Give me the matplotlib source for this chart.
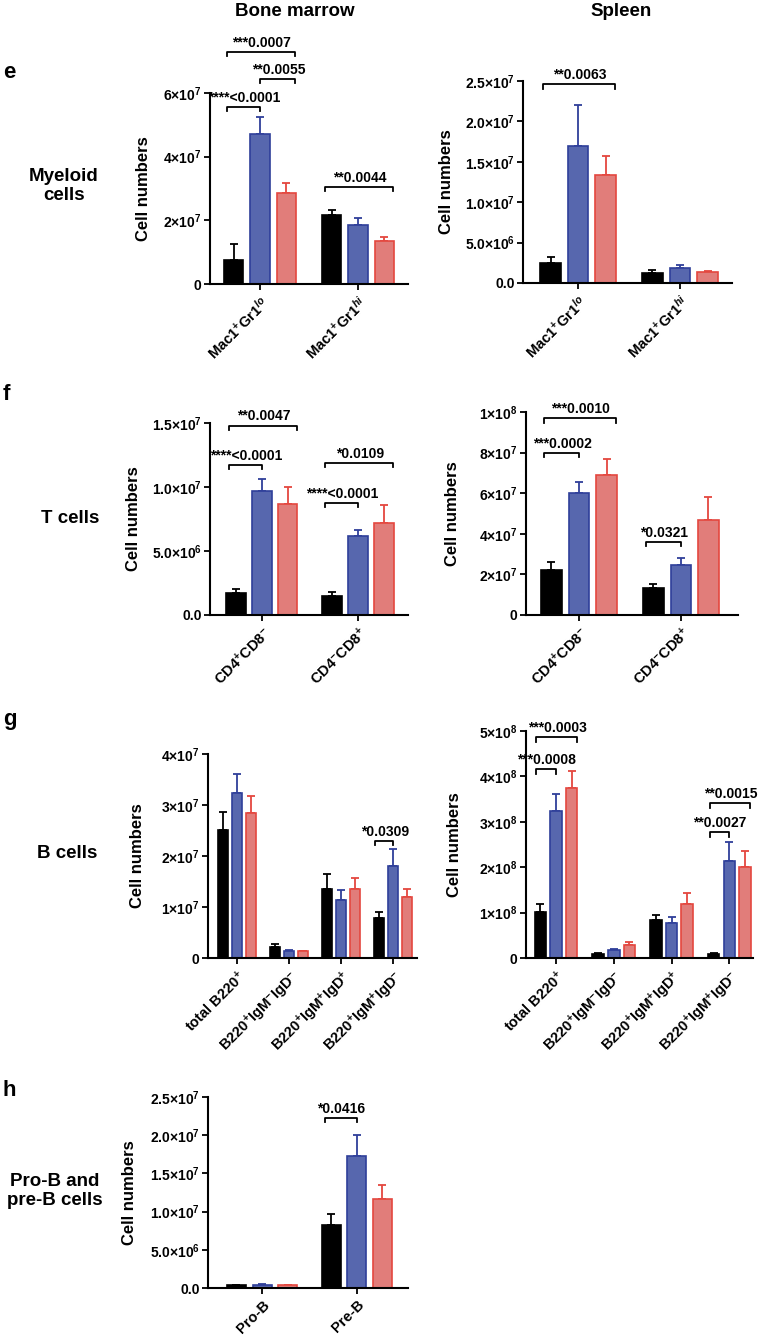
import numpy as np
import matplotlib.pyplot as plt

plt.rcParams['font.family'] = ['Liberation Sans', 'DejaVu Sans']
plt.rcParams['font.weight'] = 'bold'
plt.rcParams['mathtext.fontset'] = 'custom'
plt.rcParams['mathtext.rm'] = 'Liberation Sans:bold'
plt.rcParams['mathtext.bf'] = 'Liberation Sans:bold'
plt.rcParams['mathtext.it'] = 'Liberation Sans:italic:bold'
plt.rcParams['mathtext.default'] = 'rm'

face_colors = ['#000000', '#5767ae', '#e17d7a']
edge_colors = ['#000000', '#2f3f9a', '#e4473f']

# e - myeloid cells
e_cats = [r'Mac1$^{+}$Gr1$^{\mathit{lo}}$', r'Mac1$^{+}$Gr1$^{\mathit{hi}}$']
e_bm_black = [0.75e7, 2.17e7]
e_bm_blue = [4.72e7, 1.86e7]
e_bm_red = [2.86e7, 1.35e7]
e_bm_black_err = [0.51e7, 0.17e7]
e_bm_blue_err = [0.53e7, 0.22e7]
e_bm_red_err = [0.32e7, 0.13e7]
e_bm_yticks = [0, 2e7, 4e7, 6e7]
e_bm_yticklabels = ['0', '2×10$^{7}$', '4×10$^{7}$', '6×10$^{7}$']
e_bm_brackets = [(0, 0, 2, 7.3e7, '***0.0007'), (0, 1, 2, 6.45e7, '**0.0055'),
                 (0, 0, 1, 5.57e7, '****<0.0001'), (1, 0, 2, 3.05e7, '**0.0044')]

e_sp_black = [0.25e7, 0.124e7]
e_sp_blue = [1.70e7, 0.186e7]
e_sp_red = [1.34e7, 0.14e7]
e_sp_black_err = [0.07e7, 0.036e7]
e_sp_blue_err = [0.50e7, 0.034e7]
e_sp_red_err = [0.23e7, 0.01e7]
e_sp_yticks = [0, 0.5e7, 1.0e7, 1.5e7, 2.0e7, 2.5e7]
e_sp_yticklabels = ['0.0', '5.0×10$^{6}$', '1.0×10$^{7}$', '1.5×10$^{7}$', '2.0×10$^{7}$', '2.5×10$^{7}$']
e_sp_brackets = [(0, 0, 2, 2.46e7, '**0.0063')]

# f - T cells
f_cats = [r'CD4$^{+}$CD8$^{-}$', r'CD4$^{-}$CD8$^{+}$']
f_bm_black = [1.72e6, 1.5e6]
f_bm_blue = [9.7e6, 6.17e6]
f_bm_red = [8.67e6, 7.2e6]
f_bm_black_err = [0.3e6, 0.3e6]
f_bm_blue_err = [0.9e6, 0.5e6]
f_bm_red_err = [1.35e6, 1.4e6]
f_bm_yticks = [0, 5e6, 1.0e7, 1.5e7]
f_bm_yticklabels = ['0.0', '5.0×10$^{6}$', '1.0×10$^{7}$', '1.5×10$^{7}$']
f_bm_brackets = [(0, 0, 2, 14.8e6, '**0.0047'), (0, 0, 1, 11.7e6, '****<0.0001'),
                 (1, 0, 2, 11.9e6, '*0.0109'), (1, 0, 1, 8.75e6, '****<0.0001')]

f_sp_black = [22e6, 13.3e6]
f_sp_blue = [60e6, 24.6e6]
f_sp_red = [69e6, 46.8e6]
f_sp_black_err = [4e6, 2e6]
f_sp_blue_err = [5.5e6, 3.4e6]
f_sp_red_err = [8e6, 11.2e6]
f_sp_yticks = [0, 2e7, 4e7, 6e7, 8e7, 1e8]
f_sp_yticklabels = ['0', '2×10$^{7}$', '4×10$^{7}$', '6×10$^{7}$', '8×10$^{7}$', '1×10$^{8}$']
f_sp_brackets = [(0, 0, 2, 97e6, '***0.0010'), (0, 0, 1, 80e6, '***0.0002'),
                 (1, 0, 1, 36e6, '*0.0321')]

# g - B cells
g_cats = [r'total B220$^{+}$', r'B220$^{+}$IgM$^{-}$IgD$^{-}$',
          r'B220$^{+}$IgM$^{+}$IgD$^{+}$', r'B220$^{+}$IgM$^{+}$IgD$^{-}$']
g_bm_black = [25.1e6, 2.1e6, 13.5e6, 7.8e6]
g_bm_blue = [32.3e6, 1.3e6, 11.4e6, 18.0e6]
g_bm_red = [28.4e6, 1.3e6, 13.5e6, 12.0e6]
g_bm_black_err = [3.5e6, 0.6e6, 2.9e6, 1.2e6]
g_bm_blue_err = [3.7e6, 0.2e6, 1.9e6, 3.4e6]
g_bm_red_err = [3.3e6, 0.1e6, 2.2e6, 1.5e6]
g_bm_yticks = [0, 1e7, 2e7, 3e7, 4e7]
g_bm_yticklabels = ['0', '1×10$^{7}$', '2×10$^{7}$', '3×10$^{7}$', '4×10$^{7}$']
g_bm_brackets = [(3, 0, 1, 23e6, '*0.0309')]

g_sp_black = [1.02e8, 0.09e8, 0.84e8, 0.09e8]
g_sp_blue = [3.24e8, 0.18e8, 0.77e8, 2.14e8]
g_sp_red = [3.74e8, 0.28e8, 1.19e8, 2.0e8]
g_sp_black_err = [0.17e8, 0.01e8, 0.11e8, 0.01e8]
g_sp_blue_err = [0.37e8, 0.02e8, 0.13e8, 0.41e8]
g_sp_red_err = [0.38e8, 0.07e8, 0.24e8, 0.35e8]
g_sp_yticks = [0, 1e8, 2e8, 3e8, 4e8, 5e8]
g_sp_yticklabels = ['0', '1×10$^{8}$', '2×10$^{8}$', '3×10$^{8}$', '4×10$^{8}$', '5×10$^{8}$']
g_sp_brackets = [(0, 0, 2, 4.87e8, '***0.0003'), (0, 0, 1, 4.16e8, '***0.0008'),
                 (3, 0, 2, 3.41e8, '**0.0015'), (3, 0, 1, 2.78e8, '**0.0027')]

# h - pro-B and pre-B cells
h_cats = ['Pro-B', 'Pre-B']
h_bm_black = [0.35e6, 8.2e6]
h_bm_blue = [0.45e6, 17.3e6]
h_bm_red = [0.4e6, 11.6e6]
h_bm_black_err = [0.05e6, 1.5e6]
h_bm_blue_err = [0.05e6, 2.7e6]
h_bm_red_err = [0.05e6, 1.9e6]
h_bm_yticks = [0, 0.5e7, 1.0e7, 1.5e7, 2.0e7, 2.5e7]
h_bm_yticklabels = ['0.0', '5.0×10$^{6}$', '1.0×10$^{7}$', '1.5×10$^{7}$', '2.0×10$^{7}$', '2.5×10$^{7}$']
h_bm_brackets = [(1, 0, 1, 22.3e6, '*0.0416')]

W, H = 759, 1344
bar_w = 0.2
step = 0.27


def px_box(x0, x1, y0, y1):
    # pixel box (top-left origin) -> figure fraction rect
    return [x0 / W, 1 - y1 / H, (x1 - x0) / W, (y1 - y0) / H]


def draw_panel(ax, cats, means, errs, yticks, yticklabels, brackets, xlim, label_x):
    n = len(cats)
    x = np.arange(n)
    for k in range(3):
        pos = x + (k - 1) * step
        ax.bar(pos, means[k], bar_w, color=face_colors[k], edgecolor=edge_colors[k],
               linewidth=1.2, zorder=2)
        ax.errorbar(pos, means[k], yerr=[np.zeros(n), errs[k]], fmt='none',
                    ecolor=edge_colors[k], elinewidth=1.3, capsize=3, capthick=1.3, zorder=1)
    ymax = yticks[-1]
    ax.set_ylim(0, ymax)
    ax.set_xlim(*xlim)
    ax.set_yticks(yticks)
    ax.set_yticklabels(yticklabels)
    ax.set_xticks(x)
    ax.set_xticklabels(cats, rotation=45, ha='right', rotation_mode='anchor', fontsize=10.5)
    for s in ['top', 'right']:
        ax.spines[s].set_visible(False)
    for s in ['left', 'bottom']:
        ax.spines[s].set_linewidth(1.5)
    ax.tick_params(axis='y', length=4, width=1.3, labelsize=10, pad=2)
    ax.tick_params(axis='x', length=4, width=1.3, pad=3)
    ax.set_ylabel('Cell numbers', fontsize=12, fontweight='bold')
    ax.yaxis.set_label_coords(label_x, 0.5)

    # significance brackets
    end_off = [-0.35 * bar_w, 0.0, 0.45 * bar_w]
    d = 0.022 * ymax
    for g, i, j, y, txt in brackets:
        x1 = g + (i - 1) * step + end_off[i]
        x2 = g + (j - 1) * step + end_off[j]
        ax.plot([x1, x1, x2, x2], [y - d, y, y, y - d], color='black', lw=1.3,
                clip_on=False, zorder=3)
        ax.annotate(txt, xy=((x1 + x2) / 2, y), xytext=(0.5, 1.5), textcoords='offset points',
                    ha='center', va='bottom', fontsize=10, fontweight='bold',
                    annotation_clip=False)


fig = plt.figure(figsize=(W / 100, H / 100), dpi=100)

panels = [
    (px_box(210, 408, 93, 284), e_cats, [e_bm_black, e_bm_blue, e_bm_red],
     [e_bm_black_err, e_bm_blue_err, e_bm_red_err], e_bm_yticks, e_bm_yticklabels,
     e_bm_brackets, (-0.51, 1.51), -0.30),
    (px_box(523, 732, 81, 283), e_cats, [e_sp_black, e_sp_blue, e_sp_red],
     [e_sp_black_err, e_sp_blue_err, e_sp_red_err], e_sp_yticks, e_sp_yticklabels,
     e_sp_brackets, (-0.54, 1.51), -0.33),
    (px_box(210, 408, 423, 615), f_cats, [f_bm_black, f_bm_blue, f_bm_red],
     [f_bm_black_err, f_bm_blue_err, f_bm_red_err], f_bm_yticks, f_bm_yticklabels,
     f_bm_brackets, (-0.54, 1.52), -0.35),
    (px_box(526, 738, 412, 615), f_cats, [f_sp_black, f_sp_blue, f_sp_red],
     [f_sp_black_err, f_sp_blue_err, f_sp_red_err], f_sp_yticks, f_sp_yticklabels,
     f_sp_brackets, (-0.52, 1.56), -0.31),
    (px_box(208, 417, 754, 958), g_cats, [g_bm_black, g_bm_blue, g_bm_red],
     [g_bm_black_err, g_bm_blue_err, g_bm_red_err], g_bm_yticks, g_bm_yticklabels,
     g_bm_brackets, (-0.56, 3.46), -0.30),
    (px_box(526, 753, 731, 958), g_cats, [g_sp_black, g_sp_blue, g_sp_red],
     [g_sp_black_err, g_sp_blue_err, g_sp_red_err], g_sp_yticks, g_sp_yticklabels,
     g_sp_brackets, (-0.52, 3.41), -0.28),
    (px_box(208, 408, 1097, 1288), h_cats, [h_bm_black, h_bm_blue, h_bm_red],
     [h_bm_black_err, h_bm_blue_err, h_bm_red_err], h_bm_yticks, h_bm_yticklabels,
     h_bm_brackets, (-0.57, 1.54), -0.355),
]

for rect, cats, means, errs, yt, ytl, br, xl, lx in panels:
    ax = fig.add_axes(rect)
    draw_panel(ax, cats, means, errs, yt, ytl, br, xl, lx)

# column titles
fig.text(295 / W, 1 - 12 / H, 'Bone marrow', ha='center', va='center', fontsize=13.5)
fig.text(621 / W, 1 - 12 / H, 'Spleen', ha='center', va='center', fontsize=13.5)

# panel letters and row labels
for letter, yp in [('e', 72), ('f', 395), ('g', 720), ('h', 1090)]:
    fig.text(3 / W, 1 - yp / H, letter, ha='left', va='center', fontsize=16)

for txt, xp, yp in [('Myeloid\ncells', 64, 186), ('T cells', 70, 518),
                    ('B cells', 67, 854), ('Pro-B and\npre-B cells', 55, 1191)]:
    fig.text(xp / W, 1 - yp / H, txt, ha='center', va='center', fontsize=13.5,
             linespacing=1.2)

fig.savefig('out.png', dpi=100)
